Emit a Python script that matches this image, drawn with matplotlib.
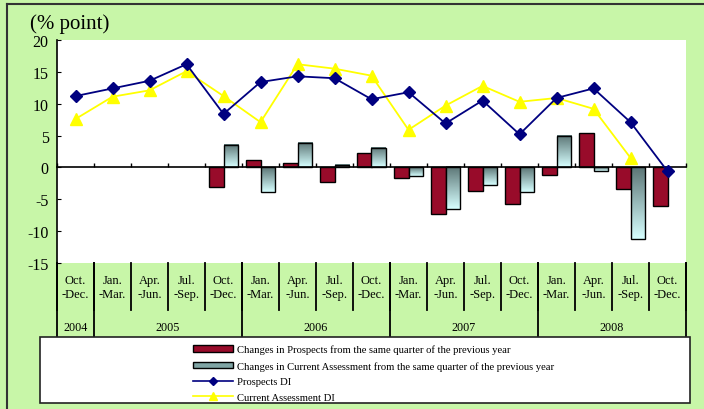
import numpy as np
import matplotlib
matplotlib.use("Agg")
import matplotlib.pyplot as plt
from matplotlib.patches import Rectangle, Patch
from matplotlib.lines import Line2D

plt.rcParams["font.family"] = ["Liberation Serif", "DejaVu Serif"]
plt.rcParams["axes.unicode_minus"] = False

# 四半期ラベルと年
quarters = ["Oct.\n-Dec.", "Jan.\n-Mar.", "Apr.\n-Jun.", "Jul.\n-Sep.", "Oct.\n-Dec.",
            "Jan.\n-Mar.", "Apr.\n-Jun.", "Jul.\n-Sep.", "Oct.\n-Dec.",
            "Jan.\n-Mar.", "Apr.\n-Jun.", "Jul.\n-Sep.", "Oct.\n-Dec.",
            "Jan.\n-Mar.", "Apr.\n-Jun.", "Jul.\n-Sep.", "Oct.\n-Dec."]
years = ["2004", "2005", "2006", "2007", "2008"]
year_counts = [1, 4, 4, 4, 4]

# DI
prospects_di = [11.2, 12.4, 13.6, 16.2, 8.4, 13.4, 14.3, 14.0, 10.7,
                11.8, 6.9, 10.5, 5.2, 10.9, 12.4, 7.1, -0.6]
current_di = [7.6, 11.1, 12.1, 15.1, 11.2, 7.1, 16.2, 15.5, 14.4,
              5.9, 9.7, 12.8, 10.3, 10.9, 9.2, 1.5, np.nan]

# 前年同期差
prospects_chg = [np.nan, np.nan, np.nan, np.nan, -3.0, 1.1, 0.7, -2.3, 2.2,
                 -1.6, -7.3, -3.7, -5.7, -1.2, 5.4, -3.4, -6.0]
current_chg = [np.nan, np.nan, np.nan, np.nan, 3.5, -3.9, 3.8, 0.4, 3.1,
               -1.4, -6.6, -2.8, -3.9, 5.0, -0.5, -11.3, np.nan]

green = "#c8f6a8"
red = "#980b2a"

fig = plt.figure(figsize=(7.04, 4.10), dpi=100, facecolor=green)
ax = fig.add_axes([57 / 704, 1 - 264 / 410, 629 / 704, 223 / 410])
ax.set_facecolor("white")

x = np.arange(len(quarters))
w = 0.4

# 棒グラフ
ax.bar(x - w / 2, prospects_chg, width=w, color=red, edgecolor="black",
       linewidth=1.0, zorder=2)
bars = ax.bar(x + w / 2, current_chg, width=w, color="none", edgecolor="black",
              linewidth=1.0, zorder=3)

# グラデーション塗り
grad = np.linspace(0, 1, 64)[:, None]
top_c = np.array([0.36, 0.46, 0.46])
bot_c = np.array([0.84, 1.0, 1.0])
img = (top_c[None, None, :] * (1 - grad[:, :, None]) + bot_c[None, None, :] * grad[:, :, None])
for b in bars:
    h = b.get_height()
    if np.isnan(h):
        continue
    x0 = b.get_x()
    y0, y1 = sorted([b.get_y(), b.get_y() + h])
    ax.imshow(img, extent=(x0, x0 + b.get_width(), y0, y1), aspect="auto",
              origin="upper", zorder=2.5, interpolation="bilinear")

# 折れ線
ax.plot(x, prospects_di, color="#000080", linewidth=1.3, marker="D",
        markersize=6.5, zorder=5)
ax.plot(x, current_di, color="#ffff00", linewidth=1.3, marker="^",
        markersize=8.5, zorder=4)

ax.set_xlim(-0.5, len(quarters) - 0.5)
ax.set_ylim(-15, 20)
ax.set_yticks(np.arange(-15, 21, 5))
ax.tick_params(axis="y", direction="in", length=3, labelsize=11.5, pad=6)

for s in ["top", "right"]:
    ax.spines[s].set_visible(False)
ax.spines["left"].set_linewidth(1.2)
ax.spines["bottom"].set_position(("data", 0))
ax.spines["bottom"].set_linewidth(1.2)
ax.set_xticks(np.arange(-0.5, len(quarters), 1))
ax.tick_params(axis="x", direction="in", length=3, width=1, labelbottom=False)

# 下の表（四半期・年）
tr = ax.get_xaxis_transform()
row1 = -47 / 223
row2 = -74 / 223
for i, q in enumerate(quarters):
    ax.text(i, -24 / 223, q, transform=tr, ha="center", va="center",
            fontsize=9, linespacing=1.3)
for b in np.arange(-0.5, len(quarters), 1):
    ax.plot([b, b], [0, row1], transform=tr, color="black", lw=1.3,
            clip_on=False)
edges = np.concatenate([[0], np.cumsum(year_counts)]) - 0.5
for e in edges:
    ax.plot([e, e], [0, row2], transform=tr, color="black", lw=1.3,
            clip_on=False)
for yr, a, b in zip(years, edges[:-1], edges[1:]):
    ax.text((a + b) / 2, -64 / 223, yr, transform=tr,
            ha="center", va="center", fontsize=8.7)

fig.text(30 / 704, 1 - 24 / 410, "(% point)", fontsize=15, ha="left",
         va="center")

# 外枠
fig.add_artist(Line2D([7 / 704, 1], [1 - 5 / 410] * 2, color="#333333", lw=1.5))
fig.add_artist(Line2D([7 / 704] * 2, [0, 1 - 5 / 410], color="#333333", lw=1.5))

# 凡例
fig.add_artist(Rectangle((40 / 704, 1 - 404 / 410), 650 / 704, 66 / 410,
                         transform=fig.transFigure, facecolor="white",
                         edgecolor="#222222", lw=1.2))
handles = [
    Patch(facecolor=red, edgecolor="black"),
    Patch(facecolor="#7fa4a4", edgecolor="black"),
    Line2D([], [], color="#000080", marker="D", markersize=4.5, lw=1.2),
    Line2D([], [], color="#ffff00", marker="^", markersize=6, lw=1.2),
]
labels = [
    "Changes in Prospects from the same quarter of the previous year",
    "Changes in Current Assessment from the same quarter of the previous year",
    "Prospects DI",
    "Current Assessment DI",
]
fig.legend(handles, labels, loc="upper left",
           bbox_to_anchor=(184 / 704, 1 - 337 / 410), frameon=False,
           fontsize=7.7, handlelength=3.8, handleheight=0.5,
           handletextpad=0.35, labelspacing=0.62, borderpad=0.3)

fig.savefig("out.png", dpi=100, facecolor=green)
